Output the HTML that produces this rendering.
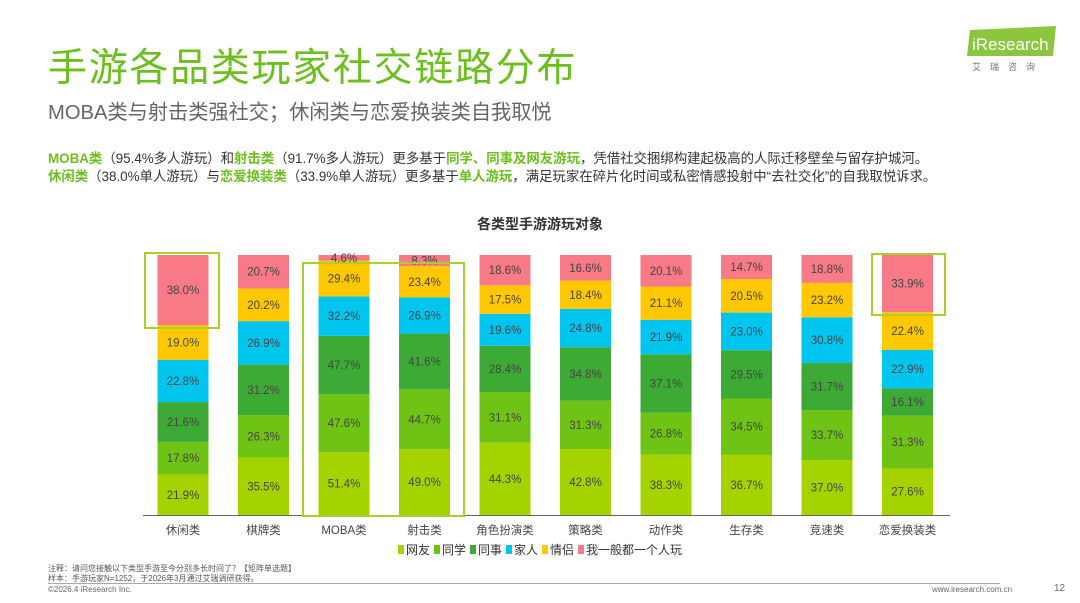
<!DOCTYPE html>
<html><head><meta charset="utf-8">
<style>
body{margin:0;width:1080px;height:603px;background:#fff;position:relative;overflow:hidden;font-family:"Liberation Sans","Noto Sans CJK SC",sans-serif;}
.abs{position:absolute;white-space:nowrap;}
.g{color:#6cc01e;font-weight:bold;}
</style></head><body>
<div class="abs" style="left:48px;top:37px;font-size:39px;color:#6cc01e;letter-spacing:1.7px;">手游各品类玩家社交链路分布</div>
<div class="abs" style="left:48px;top:96px;font-size:20.2px;color:#666;">MOBA类与射击类强社交；休闲类与恋爱换装类自我取悦</div>
<div class="abs" style="left:48px;top:147px;font-size:13.4px;color:#333;"><span class="g">MOBA类</span>（95.4%多人游玩）和<span class="g">射击类</span>（91.7%多人游玩）更多基于<span class="g">同学、同事及网友游玩</span>，凭借社交捆绑构建起极高的人际迁移壁垒与留存护城河。</div>
<div class="abs" style="left:48px;top:165px;font-size:13.4px;color:#333;"><span class="g">休闲类</span>（38.0%单人游玩）与<span class="g">恋爱换装类</span>（33.9%单人游玩）更多基于<span class="g">单人游玩</span>，满足玩家在碎片化时间或私密情感投射中“去社交化”的自我取悦诉求。</div>
<svg class="abs" style="left:960px;top:22px" width="110" height="56">
<polygon points="10,8 96,4 93,34 7,34" fill="#8cc63f"/>
<text x="12" y="28" font-size="17" fill="#fff" font-family="Liberation Sans">iResearch</text>
<text x="12" y="48" font-size="9" fill="#777" letter-spacing="9">艾瑞咨询</text>
</svg>
<svg class="abs" id="chart" style="left:0;top:0" width="1080" height="603"></svg>
<div class="abs" style="left:48px;top:563px;font-size:8px;color:#555;">注释：请问您接触以下类型手游至今分别多长时间了？【矩阵单选题】</div>
<div class="abs" style="left:48px;top:573px;font-size:8px;color:#555;">样本：手游玩家N=1252，于2026年3月通过艾瑞调研获得。</div>
<div class="abs" style="left:48px;top:583px;width:952px;border-top:1px solid #aaa;"></div>
<div class="abs" style="left:48px;top:585px;font-size:8px;color:#666;">©2026.4 iResearch Inc.</div>
<div class="abs" style="left:932px;top:585px;font-size:8px;color:#666;">www.iresearch.com.cn</div>
<div class="abs" style="left:1054px;top:583px;font-size:10px;color:#666;">12</div>
<script>
const categories=["休闲类","棋牌类","MOBA类","射击类","角色扮演类","策略类","动作类","生存类","竞速类","恋爱换装类"];
const seriesNames=["网友","同学","同事","家人","情侣","我一般都一个人玩"];
const netFriend=[21.9,35.5,51.4,49.0,44.3,42.8,38.3,36.7,37.0,27.6];
const classmate=[17.8,26.3,47.6,44.7,31.1,31.3,26.8,34.5,33.7,31.3];
const colleague=[21.6,31.2,47.7,41.6,28.4,34.8,37.1,29.5,31.7,16.1];
const family=[22.8,26.9,32.2,26.9,19.6,24.8,21.9,23.0,30.8,22.9];
const partner=[19.0,20.2,29.4,23.4,17.5,18.4,21.1,20.5,23.2,22.4];
const alone=[38.0,20.7,4.6,8.3,18.6,16.6,20.1,14.7,18.8,33.9];
const series=[netFriend,classmate,colleague,family,partner,alone];
const colors=["#a5d300","#6fc314","#3daa35","#00c5ef","#ffc800","#f77a86"];
const NS="http://www.w3.org/2000/svg";
const svg=document.getElementById('chart');
const x0=183,step=80.5,bw=51,yBase=515,yTop=255;
function xc(i){return x0+i*step;}
function yScale(f){return yBase-f*(yBase-yTop);}
function mk(t,a){const e=document.createElementNS(NS,t);for(const k in a)e.setAttribute(k,a[k]);svg.appendChild(e);return e;}
let t=mk('text',{x:540,y:229,'text-anchor':'middle','font-size':14,'font-weight':'bold',fill:'#333'});t.textContent="各类型手游游玩对象";


categories.forEach((c,i)=>{
  const total=series.reduce((s,a)=>s+a[i],0);
  let cum=0;
  series.forEach((arr,k)=>{
    const y1=yScale(cum/total),y2=yScale((cum+arr[i])/total);
    const r=mk('rect',{x:xc(i)-bw/2,y:y2,width:bw,height:y1-y2,fill:colors[k]});
    
    
    const lb=mk('text',{x:xc(i),y:(y1+y2)/2+4,'text-anchor':'middle','font-size':11.5,fill:'#444'});
    lb.textContent=arr[i].toFixed(1)+"%";
    
    
    cum+=arr[i];
  });
  const cl=mk('text',{x:xc(i),y:534,'text-anchor':'middle','font-size':11.5,fill:'#444'});
  cl.textContent=c;
  
  
});
const ax=mk('line',{x1:143,x2:950,y1:yBase+0.5,y2:yBase+0.5,stroke:'#666','stroke-width':1});


[[145,253,74,75],[303,263,161,253],[872,254,73,61]].forEach(b=>{
  const r=mk('rect',{x:b[0],y:b[1],width:b[2],height:b[3],fill:'none',stroke:'#a8d22a','stroke-width':2});
  
  
});
let lx=398;
seriesNames.forEach((n,k)=>{
  const r=mk('rect',{x:lx,y:545,width:6,height:9,fill:colors[k]});
  
  
  const tx=mk('text',{x:lx+8,y:554,'font-size':12,fill:'#333'});
  tx.textContent=n;
  
  
  lx+=8+n.length*12+4;
});
</script>
</body></html>
